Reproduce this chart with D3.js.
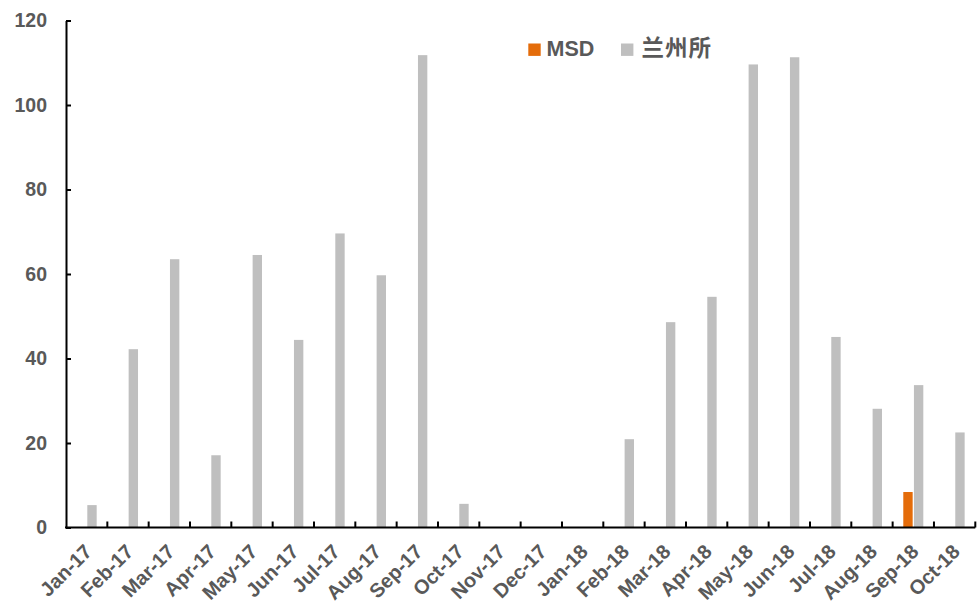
<!DOCTYPE html>
<html>
<head>
<meta charset="utf-8">
<script src="https://cdn.jsdelivr.net/npm/d3@7"></script>
<style>
  html, body { margin: 0; padding: 0; background: #fff; }
  svg { display: block; }
  .axis text { font-family: "Liberation Sans", Arial, sans-serif; font-weight: bold; fill: #595959; }
</style>
</head>
<body>
<svg id="chart" width="980" height="603"></svg>
<script>
// Monthly counts, Jan-17 .. Oct-18
const categories = ["Jan-17","Feb-17","Mar-17","Apr-17","May-17","Jun-17","Jul-17","Aug-17","Sep-17","Oct-17","Nov-17","Dec-17",
                    "Jan-18","Feb-18","Mar-18","Apr-18","May-18","Jun-18","Jul-18","Aug-18","Sep-18","Oct-18"];
const seriesNames = ["MSD", "兰州所"];
const msdValues = [null,null,null,null,null,null,null,null,null,null,null,null,
                   null,null,null,null,null,null,null,null,8.4,null];
const lanzhouValues = [5.3,42.2,63.5,17.1,64.5,44.4,69.6,59.7,111.8,5.6,0,0,
                       0,20.9,48.6,54.6,109.6,111.3,45.1,28.1,33.7,22.5];
const yTicks = [0, 20, 40, 60, 80, 100, 120];
const seriesColors = ["#E46C0A", "#BFBFBF"];

const svg = d3.select("#chart");
const plot = { left: 66, right: 975.3, top: 20.5, bottom: 527.5 };

const x = d3.scaleBand().domain(categories).range([plot.left, plot.right]).padding(0);
const inner = d3.scaleBand().domain(seriesNames).range([0, x.bandwidth()])
  .paddingInner(0.12).paddingOuter(1.0);
const y = d3.scaleLinear().domain([0, 120]).range([plot.bottom, plot.top]);
const color = d3.scaleOrdinal().domain(seriesNames).range(seriesColors);

// bars
const series = [
  { name: "MSD", values: msdValues },
  { name: "兰州所", values: lanzhouValues }
];
series.forEach(s => {
  const pts = categories.map((c, i) => ({ c, v: s.values[i] })).filter(d => d.v != null && d.v > 0);
  svg.append("g").selectAll("rect").data(pts).join("rect")
    .attr("x", d => x(d.c) + inner(s.name))
    .attr("width", inner.bandwidth())
    .attr("y", d => y(d.v))
    .attr("height", d => y(0) - y(d.v))
    .attr("fill", color(s.name));
});

// y axis with inward ticks
const yAxis = svg.append("g").attr("class", "axis")
  .attr("transform", `translate(${plot.left},0)`)
  .call(d3.axisLeft(y).tickValues(yTicks).tickSizeInner(-5).tickSizeOuter(0).tickPadding(19));
yAxis.selectAll("text").style("font-size", "19.5px");
yAxis.selectAll("line, path").attr("stroke", "#000").attr("stroke-width", 2);

// x axis: baseline, boundary ticks, rotated month labels
const xAxis = svg.append("g").attr("class", "axis")
  .attr("transform", `translate(0,${plot.bottom})`)
  .call(d3.axisBottom(x).tickSize(0).tickPadding(0));
xAxis.select(".domain").attr("stroke", "#000").attr("stroke-width", 2)
  .attr("d", `M${plot.left - 1},0H${plot.right}`);
xAxis.selectAll(".tick text")
  .style("font-size", "20px")
  .attr("text-anchor", "end")
  .attr("dy", null)
  .attr("y", null)
  .attr("transform", "translate(6.5,25.5) rotate(-45)");
xAxis.append("g").selectAll("line").data(categories).join("line")
  .attr("x1", d => x(d) + x.step()).attr("x2", d => x(d) + x.step())
  .attr("y1", 0).attr("y2", -6)
  .attr("stroke", "#000").attr("stroke-width", 2);

// legend
const legend = svg.append("g");
const legendItems = [
  { name: "MSD", sx: 528.3, tx: 546.5, font: "'Liberation Sans', Arial, sans-serif" },
  { name: "兰州所", sx: 621, tx: 641.5, font: "'Noto Sans CJK SC', sans-serif" }
];
legendItems.forEach(it => {
  legend.append("rect").attr("x", it.sx).attr("y", 43.5).attr("width", 12.4).attr("height", 12.4)
    .attr("fill", color(it.name));
  legend.append("text").attr("x", it.tx).attr("y", 56)
    .style("font-family", it.font).style("font-weight", "bold")
    .style("font-size", it.name === "MSD" ? "21.5px" : "22.5px")
    .attr("letter-spacing", it.name === "MSD" ? null : "1px")
    .attr("fill", "#595959").text(it.name);
});
</script>
</body>
</html>
